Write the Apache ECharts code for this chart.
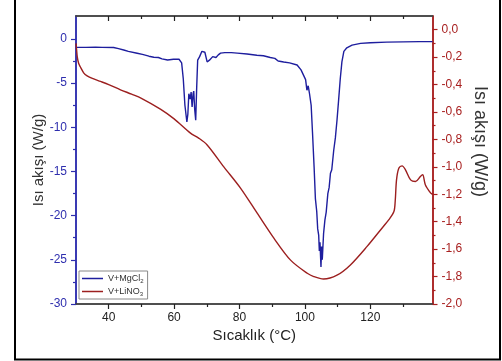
<!DOCTYPE html>
<html>
<head>
<meta charset="utf-8">
<script src="https://cdn.jsdelivr.net/npm/echarts@6/dist/echarts.min.js"></script>
<style>html,body{margin:0;padding:0;background:#fff}#c{width:502px;height:361px}</style>
</head>
<body>
<div id="c"></div>
<script>
// ---- data ----
const tempMg = [30,33,36,38,41.5,43,44.6,46,48.7,50.3,52.3,53.8,55.2,56.3,58,59.8,61.5,62.3,62.8,63.3,63.9,64.2,64.5,64.9,65.2,65.5,65.8,66.0,66.3,66.6,66.9,67.2,67.8,68.5,68.9,69.4,70.1,70.8,71.8,72.8,73.5,74.2,75.5,77.5,79.3,82.3,85.3,87.3,89.4,90.8,91.8,93.5,95.3,97.6,98.8,100.2,100.6,101.0,101.4,101.9,102.3,102.8,103.2,103.6,103.9,104.2,104.4,104.6,104.9,105.1,105.3,105.7,106.1,106.5,107.0,107.4,107.8,108.2,108.8,109.3,109.8,110.3,110.8,111.3,111.9,112.8,114.4,117,120,125,130,135,139];
const heatMg = [-0.95,-0.95,-0.93,-0.95,-0.97,-1.1,-1.25,-1.4,-1.62,-1.75,-1.95,-2.07,-2.1,-2.25,-2.38,-2.3,-2.3,-2.7,-4.5,-7.5,-9.4,-8.5,-6.2,-6.8,-6.0,-7.7,-6.2,-5.9,-8.0,-9.2,-5.5,-2.4,-2.0,-1.4,-1.3,-1.5,-2.6,-2.4,-2.0,-2.1,-1.8,-1.6,-1.55,-1.55,-1.6,-1.7,-1.85,-1.9,-2.1,-2.2,-2.5,-2.6,-2.7,-2.95,-3.5,-4.6,-5.8,-5.3,-6.2,-7.5,-10.5,-14.5,-18.1,-19.5,-21.5,-22.2,-24.0,-23.0,-25.8,-23.5,-25.0,-22.0,-20.5,-19.6,-17.5,-16.8,-15.2,-14.8,-12.6,-11.2,-9.2,-6.9,-4.5,-2.6,-1.4,-1.0,-0.7,-0.5,-0.42,-0.36,-0.33,-0.3,-0.3];
const tempLi = [30,30.2,30.4,30.8,31.3,32.4,33.4,35,37.5,40,43.6,47,50,55.8,60,65,67.5,70.1,75.2,80.3,85.4,90.5,95.6,100.7,102.7,105.7,109.8,113.9,119,123.1,125.6,127.2,127.6,128.0,128.7,129.7,130.7,132.3,133.8,135.3,136.0,136.8,138.4,139];
const heatLi = [-0.10,-0.15,-0.20,-0.245,-0.27,-0.316,-0.336,-0.355,-0.377,-0.40,-0.438,-0.47,-0.50,-0.579,-0.65,-0.754,-0.79,-0.84,-1.0,-1.155,-1.338,-1.52,-1.68,-1.776,-1.80,-1.818,-1.79,-1.715,-1.58,-1.46,-1.387,-1.326,-1.25,-1.095,-1.01,-0.993,-1.02,-1.095,-1.107,-1.07,-1.058,-1.13,-1.19,-1.2];
const seriesNames = ['V+MgCl2','V+LiNO3'];
const xMajor = [40,60,80,100,120];
const xMinor = [50,70,90,110,130];
const yLeftMajor = [-30,-25,-20,-15,-10,-5,0];
const yLeftMinor = [-27.5,-22.5,-17.5,-12.5,-7.5,-2.5];
const yRightMajor = [-2,-1.8,-1.6,-1.4,-1.2,-1,-0.8,-0.6,-0.4,-0.2,0];
const yRightMinor = [-1.9,-1.7,-1.5,-1.3,-1.1,-0.9,-0.7,-0.5,-0.3,-0.1];

const FONT = '"Liberation Sans", Arial, sans-serif';
const BLUE_AX = '#2e2eae', RED_AX = '#a82020', GRAY_AX = '#444';
const BLUE = '#1e1e9e', RED = '#9c1f1f';

function xAx(pos, vals, len, inside, withLabel) {
  return {
    type:'value', position:pos, min:30, max:139,
    axisLine:{show:true, onZero:false, lineStyle:{color:GRAY_AX, width:1.5}},
    axisTick:{show:true, inside:inside, length:len, customValues:vals, lineStyle:{color:'#222', width:1.2}},
    axisLabel:{show:withLabel, customValues:vals, margin:8, color:'#222', fontSize:12, fontFamily:FONT},
    splitLine:{show:false}
  };
}
function yAx(pos, min, max, vals, len, color, withLabel, fmt) {
  return {
    type:'value', position:pos, min:min, max:max,
    axisLine:{show:true, onZero:false, lineStyle:{color:color, width:1.5}},
    axisTick:{show:true, inside:false, length:len, customValues:vals, lineStyle:{color:color, width:1.2}},
    axisLabel:{show:withLabel, customValues:vals, margin:9, color:color, fontSize:12, fontFamily:FONT, formatter:fmt},
    splitLine:{show:false}
  };
}

const xAxes = [
  Object.assign(xAx('bottom', xMajor, 5, false, true), {
    name:'Sıcaklık (°C)', nameLocation:'middle', nameGap:24, nameMoveOverlap:false,
    nameTextStyle:{fontSize:15, color:'#222', fontFamily:FONT}
  }),
  xAx('bottom', xMinor, 3, false, false),
  xAx('top', xMajor, 5, true, false),
  xAx('top', xMinor, 3, true, false)
];
const yAxes = [
  Object.assign(yAx('left', -30, 2.6, yLeftMajor, 5, BLUE_AX, true, v => String(v)), {
    name:'Isı akışı (W/g)', nameLocation:'middle', nameGap:30, nameMoveOverlap:false,
    nameTextStyle:{fontSize:15, color:'#333', fontFamily:FONT}
  }),
  yAx('left', -30, 2.6, yLeftMinor, 3, BLUE_AX, false),
  yAx('right', -2, 0.1, yRightMajor, 5, RED_AX, true, v => v.toFixed(1).replace('.', ',')),
  yAx('right', -2, 0.1, yRightMinor, 3, RED_AX, false)
];

const chart = echarts.init(document.getElementById('c'), null, {renderer:'canvas'});
chart.setOption({
  animation:false,
  backgroundColor:'#fff',
  grid:{left:76, right:69.5, top:16, bottom:57},
  xAxis:xAxes,
  yAxis:yAxes,
  legend:{
    data:seriesNames, orient:'vertical', left:79, top:271,
    backgroundColor:'#fff', borderColor:'#888', borderWidth:1, borderRadius:0,
    padding:[3,4,2,3], itemGap:3, itemWidth:21, itemHeight:1.5, icon:'rect',
    formatter: n => n === 'V+MgCl2' ? '{a|V+MgCl}{s|2}' : '{a|V+LiNO}{s|3}',
    textStyle:{color:'#333', fontFamily:FONT, rich:{
      a:{fontSize:9, color:'#333', fontFamily:FONT},
      s:{fontSize:6, color:'#333', fontFamily:FONT, verticalAlign:'bottom', padding:[5,0,0,0]}
    }}
  },
  graphic:[
    {type:'rect', shape:{x:15, y:-5, width:485, height:364.5}, style:{fill:'none', stroke:'#000', lineWidth:2}, silent:true},
    {type:'text', x:480, y:141.5, rotation:-Math.PI/2,
     style:{text:'Isı akışı (W/g)', fontSize:18, fontFamily:FONT, fill:'#333', align:'center', verticalAlign:'middle'}}
  ],
  series:[
    {name:seriesNames[0], type:'line', xAxisIndex:0, yAxisIndex:0, showSymbol:false, symbol:'none',
     lineStyle:{color:BLUE, width:1.4}, itemStyle:{color:BLUE},
     data: tempMg.map((t,i)=>[t, heatMg[i]])},
    {name:seriesNames[1], type:'line', xAxisIndex:0, yAxisIndex:2, showSymbol:false, symbol:'none', smooth:0.3,
     lineStyle:{color:RED, width:1.4}, itemStyle:{color:RED},
     data: tempLi.map((t,i)=>[t, heatLi[i]])}
  ]
});
</script>
</body>
</html>
